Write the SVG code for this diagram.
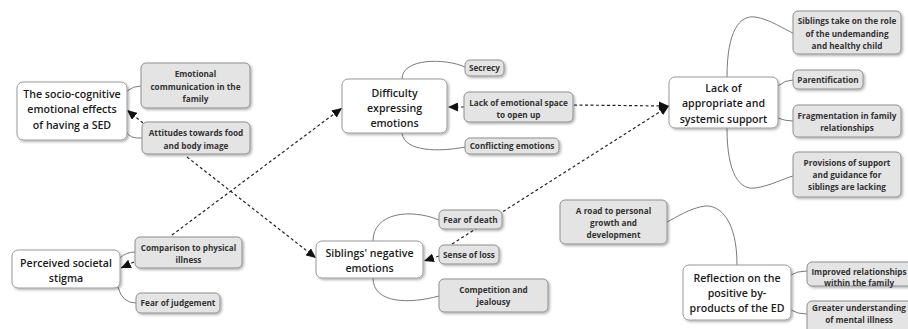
<svg xmlns="http://www.w3.org/2000/svg" width="908" height="329" viewBox="0 0 908 329">
<defs>
<filter id="sh" x="-10%" y="-10%" width="130%" height="140%">
<feDropShadow dx="1.5" dy="1.5" stdDeviation="0.8" flood-color="#000" flood-opacity="0.3"/>
</filter>
<marker id="ah" markerUnits="userSpaceOnUse" markerWidth="11" markerHeight="9" refX="10" refY="4.5" orient="auto">
<path d="M0,0 L10,4.5 L0,9 z" fill="#111"/>
</marker>
</defs>
<style>
.main rect{fill:#fff;stroke:#9a9a9a;stroke-width:1;filter:url(#sh)}
.sub rect{fill:#e4e4e4;stroke:#8f8f8f;stroke-width:1;filter:url(#sh)}
.main text{font-family:"Open Sans","Noto Sans","Liberation Sans",sans-serif;font-weight:600;font-size:10.6px;fill:#1a1a1a;text-anchor:middle}
.sub text{font-family:"Open Sans","Noto Sans","Liberation Sans",sans-serif;font-weight:700;font-size:8.2px;fill:#333;text-anchor:middle}
.c{fill:none;stroke:#7a7a7a;stroke-width:1}
.d{fill:none;stroke:#222;stroke-width:1.2;stroke-dasharray:3 2.5;marker-end:url(#ah)}
</style>
<g id="connectors">
<path class="c" d="M127,91 Q133,86 141,86"/>
<path class="c" d="M126,131 Q129,139 142,138"/>
<path class="c" d="M120,258 Q126,252 135,252"/>
<path class="c" d="M118,287 Q122,303 136,303"/>
<path class="c" d="M402,79 C402,58 445,58 465,67"/>
<path class="c" d="M402,133 C404,152 440,152 465,147"/>
<path class="c" d="M373,241 C373,213 410,208 439,220"/>
<path class="c" d="M373,278 C373,304 410,304 439,296"/>
<path class="c" d="M727,77 C727,30 740,15 755,17 C770,19 785,30 793,33"/>
<path class="c" d="M778,86 Q785,80 793,80"/>
<path class="c" d="M778,118 Q785,121 793,121"/>
<path class="c" d="M727,128 C727,175 740,190 755,188 C770,186 785,178 793,176"/>
<path class="c" d="M737,265 C737,220 720,205 705,206 C690,208 675,218 667,222"/>
<path class="c" d="M791,275 Q797,271 807,271"/>
<path class="c" d="M791,310 Q797,314 807,314"/>
<path class="d" d="M143,123 L127,110"/>
<path class="d" d="M187,157 L316,258"/>
<path class="d" d="M134,262 L121,268"/>
<path class="d" d="M172,235 L342,108"/>
<path class="d" d="M464,107 L448,107"/>
<path class="d" d="M574,105 L669,106"/>
<path class="d" d="M439,256 L424,261"/>
<path class="d" d="M452,244 L669,106"/>
</g>
<g id="n-socio" class="main"><rect x="17" y="82" width="110" height="58" rx="6"/><text x="72" y="97.5">The socio-cognitive</text><text x="72" y="113">emotional effects</text><text x="72" y="128.5">of having a SED</text></g>
<g id="n-stigma" class="main"><rect x="12" y="250" width="108" height="38" rx="6"/><text x="66" y="266.5">Perceived societal</text><text x="66" y="281.5">stigma</text></g>
<g id="n-difficulty" class="main"><rect x="342" y="79" width="105" height="54" rx="6"/><text x="394.5" y="96.5">Difficulty</text><text x="394.5" y="111.5">expressing</text><text x="394.5" y="126.5">emotions</text></g>
<g id="n-siblings" class="main"><rect x="316" y="241" width="107" height="37" rx="6"/><text x="369.5" y="256.5">Siblings' negative</text><text x="369.5" y="271.5">emotions</text></g>
<g id="n-lack" class="main"><rect x="669" y="77" width="109" height="51" rx="6"/><text x="723.5" y="91.5">Lack of</text><text x="723.5" y="107">appropriate and</text><text x="723.5" y="122.5">systemic support</text></g>
<g id="n-reflection" class="main"><rect x="683" y="265" width="108" height="55" rx="6"/><text x="737" y="281.5">Reflection on the</text><text x="737" y="296.5">positive by-</text><text x="737" y="311.5">products of the ED</text></g>
<g id="s-emotional" class="sub"><rect x="141" y="63" width="109" height="45" rx="5"/><text x="195.5" y="77">Emotional</text><text x="195.5" y="89.5">communication in the</text><text x="195.5" y="101.5">family</text></g>
<g id="s-attitudes" class="sub"><rect x="142" y="122" width="108" height="32" rx="5"/><text x="196" y="136">Attitudes towards food</text><text x="196" y="148.5">and body image</text></g>
<g id="s-comparison" class="sub"><rect x="135" y="237" width="107" height="31" rx="5"/><text x="188.5" y="251">Comparison to physical</text><text x="188.5" y="262.5">illness</text></g>
<g id="s-judgement" class="sub"><rect x="136" y="293" width="84" height="20" rx="5"/><text x="178" y="306">Fear of judgement</text></g>
<g id="s-secrecy" class="sub"><rect x="465" y="60" width="39" height="16" rx="5"/><text x="484.5" y="71">Secrecy</text></g>
<g id="s-space" class="sub"><rect x="464" y="92" width="109" height="30" rx="5"/><text x="518.5" y="106">Lack of emotional space</text><text x="518.5" y="117.5">to open up</text></g>
<g id="s-conflicting" class="sub"><rect x="465" y="138" width="94" height="16" rx="5"/><text x="512" y="149">Conflicting emotions</text></g>
<g id="s-death" class="sub"><rect x="439" y="210" width="63" height="19" rx="5"/><text x="470.5" y="222.5">Fear of death</text></g>
<g id="s-loss" class="sub"><rect x="439" y="245" width="60" height="19" rx="5"/><text x="469" y="258">Sense of loss</text></g>
<g id="s-competition" class="sub"><rect x="439" y="279" width="109" height="33" rx="5"/><text x="493.5" y="293">Competition and</text><text x="493.5" y="305">jealousy</text></g>
<g id="s-role" class="sub"><rect x="793" y="11" width="108" height="43" rx="5"/><text x="847" y="24">Siblings take on the role</text><text x="847" y="36.5">of the undemanding</text><text x="847" y="49">and healthy child</text></g>
<g id="s-parent" class="sub"><rect x="793" y="70" width="70" height="19" rx="5"/><text x="828" y="82.5">Parentification</text></g>
<g id="s-fragment" class="sub"><rect x="793" y="105" width="108" height="32" rx="5"/><text x="847" y="119">Fragmentation in family</text><text x="847" y="131">relationships</text></g>
<g id="s-provisions" class="sub"><rect x="793" y="152" width="108" height="45" rx="5"/><text x="847" y="166">Provisions of support</text><text x="847" y="178">and guidance for</text><text x="847" y="190">siblings are lacking</text></g>
<g id="s-road" class="sub"><rect x="560" y="200" width="107" height="44" rx="5"/><text x="613.5" y="214">A road to personal</text><text x="613.5" y="226">growth and</text><text x="613.5" y="238">development</text></g>
<g id="s-improved" class="sub"><rect x="807" y="262" width="106" height="24" rx="5"/><text x="859" y="275">Improved relationships</text><text x="859" y="286">within the family</text></g>
<g id="s-greater" class="sub"><rect x="807" y="301" width="106" height="35" rx="5"/><text x="859" y="311">Greater understanding</text><text x="859" y="323">of mental illness</text></g>
</svg>
